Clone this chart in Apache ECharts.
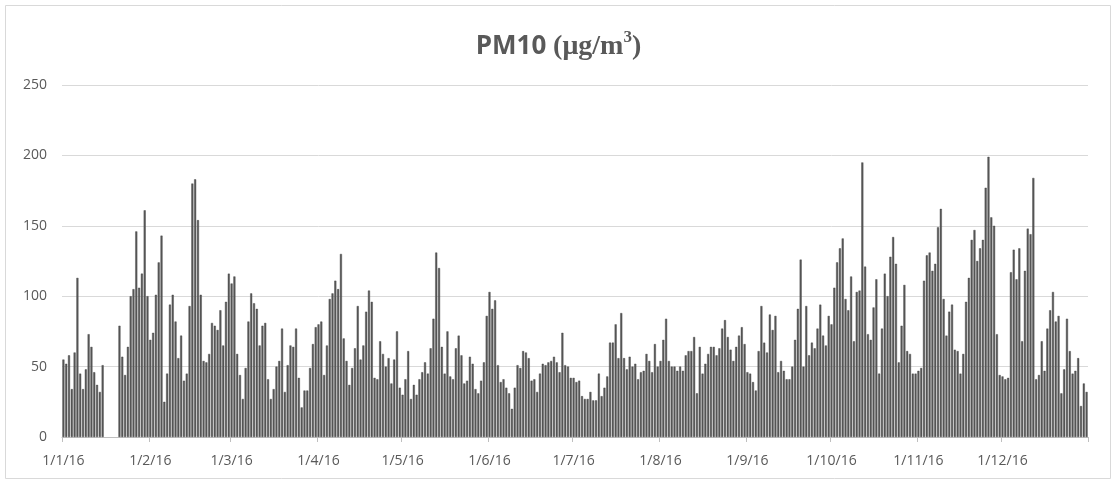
<!DOCTYPE html>
<html>
<head>
<meta charset="utf-8">
<script src="https://cdn.jsdelivr.net/npm/echarts@6/dist/echarts.min.js"></script>
<style>
html,body{margin:0;padding:0;background:#fff;}
#c{width:1117px;height:487px;}
</style>
</head>
<body>
<div id="c"></div>
<script>
// Daily PM10 values, 2016 (null = missing day)
var jan = [55,52,58,34,60,113,45,34,48,73,64,46,37,32,51,null,null,null,null,null,79,57,44,64,100,105,146,106,116,161,100];
var feb = [69,74,101,124,143,25,45,94,101,82,56,72,40,45,93,180,183,154,101,54,53,59,81,79,76,90,65,96,116];
var mar = [109,114,59,44,27,49,82,102,95,91,65,79,81,41,27,34,50,54,77,32,51,65,64,77,42,21,33,33,49,66,78];
var apr = [80,82,44,65,98,102,111,105,130,70,54,37,49,63,93,55,65,89,104,96,42,41,68,59,50,56,38,55,75,35];
var may = [30,41,61,27,37,30,41,46,53,45,63,84,131,120,64,45,75,43,41,63,72,58,38,40,57,52,34,31,40,53,86];
var jun = [103,91,97,51,39,41,35,31,20,35,51,49,61,60,56,40,41,32,45,52,51,53,54,57,53,46,74,51,50,42];
var jul = [42,39,40,29,27,27,32,26,26,45,29,35,43,67,67,80,56,88,56,48,57,50,52,41,46,47,59,54,46,66,50];
var aug = [54,69,84,54,50,50,47,50,47,58,61,61,71,31,64,45,52,59,64,64,58,63,77,83,71,62,54,64,72,78,66];
var sep = [46,45,39,33,61,93,67,60,87,76,86,46,54,47,41,41,50,69,91,126,50,93,58,67,63,77,94,72,65,86];
var oct = [80,106,124,134,141,98,90,114,68,103,104,195,121,73,69,92,112,45,77,116,100,128,142,123,53,79,108,61,59,45,45];
var nov = [47,49,111,129,131,118,123,149,162,98,72,89,94,62,61,45,59,96,113,140,147,125,134,140,177,199,156,150,73,44];
var dec = [43,41,42,117,133,112,134,68,118,148,144,184,41,44,68,47,77,90,103,82,86,31,48,84,61,45,47,56,22,38,32];

var months = [jan,feb,mar,apr,may,jun,jul,aug,sep,oct,nov,dec];
var yTicks = [0,50,100,150,200,250];

var categories = [];
var values = [];
months.forEach(function(arr, mi){
  arr.forEach(function(v, di){
    categories.push((di+1) + '/' + (mi+1) + '/16');
    values.push(v);
  });
});

function isMonthStart(idx, val){ return categories[idx].indexOf('1/') === 0; }

var chart = echarts.init(document.getElementById('c'));
chart.setOption({
  animation:false,
  backgroundColor:'#fff',
  title:{
    text:'{a|PM10 }{b|(μg/m}{s|3}{b|)}',
    left:'center',
    top:24,
    textStyle:{
      rich:{
        a:{fontFamily:'Open Sans',fontWeight:'bold',fontSize:26,color:'#595959',lineHeight:36},
        b:{fontFamily:'Liberation Serif',fontWeight:'bold',fontSize:28,color:'#595959',lineHeight:36},
        s:{fontFamily:'Liberation Serif',fontWeight:'bold',fontSize:17,color:'#595959',verticalAlign:'top',lineHeight:36,padding:[0,0,12,0]}
      }
    }
  },
  graphic:[{
    type:'rect',
    shape:{x:5.5,y:5.5,width:1105,height:473},
    style:{fill:'none',stroke:'#d9d9d9',lineWidth:1},
    silent:true,
    z:-1
  }],
  grid:{left:62,right:29,top:85,bottom:50},
  xAxis:{
    type:'category',
    data:categories,
    boundaryGap:true,
    axisLine:{lineStyle:{color:'#bfbfbf',width:1}},
    axisTick:{show:true,interval:isMonthStart,length:5,lineStyle:{color:'#bfbfbf'}},
    axisLabel:{interval:isMonthStart,color:'#595959',fontFamily:'Open Sans',fontSize:14,margin:17},
    splitLine:{show:false}
  },
  yAxis:{
    type:'value',
    min:yTicks[0],
    max:yTicks[yTicks.length-1],
    interval:50,
    axisLine:{show:false},
    axisTick:{show:false},
    axisLabel:{color:'#595959',fontFamily:'Open Sans',fontSize:14,margin:15},
    splitLine:{lineStyle:{color:'#d9d9d9',width:1}}
  },
  series:[{
    type:'bar',
    data:values,
    barCategoryGap:'28%',
    itemStyle:{color:'#5a5a5a',borderColor:'#3c3c3c',borderWidth:0.4}
  }]
});
</script>
</body>
</html>
